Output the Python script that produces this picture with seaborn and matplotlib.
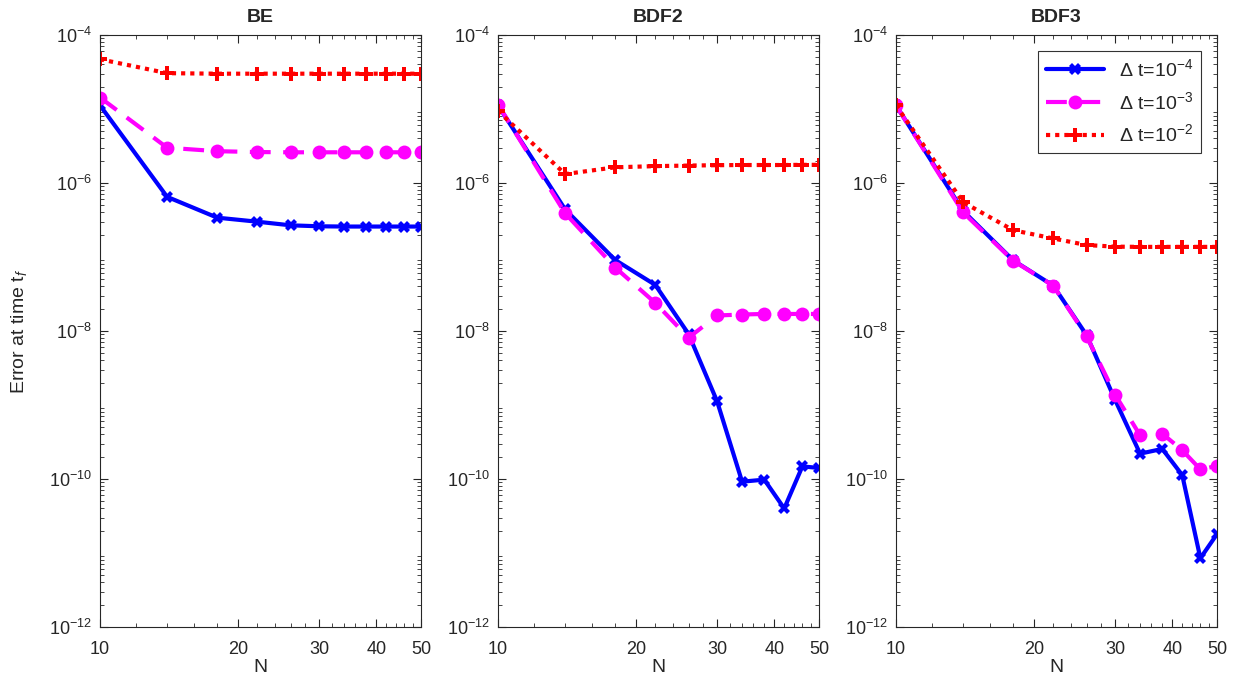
import numpy as np
import pandas as pd
import matplotlib
matplotlib.use("Agg")
import matplotlib.pyplot as plt
import matplotlib.ticker as mticker
import seaborn as sns

# grid sizes
N = [10, 14, 18, 22, 26, 30, 34, 38, 42, 46, 50]

# BE errors
be_dt4 = [1.12e-5, 6.5e-7, 3.4e-7, 3.0e-7, 2.68e-7, 2.6e-7, 2.58e-7, 2.58e-7, 2.58e-7, 2.58e-7, 2.58e-7]
be_dt3 = [1.43e-5, 3.0e-6, 2.69e-6, 2.62e-6, 2.6e-6, 2.6e-6, 2.6e-6, 2.6e-6, 2.6e-6, 2.6e-6, 2.6e-6]
be_dt2 = [4.7e-5, 3.05e-5, 3.0e-5, 3.0e-5, 3.0e-5, 3.0e-5, 3.0e-5, 3.0e-5, 3.0e-5, 3.0e-5, 3.0e-5]

# BDF2 errors
bdf2_dt4 = [1.12e-5, 4.4e-7, 9.1e-8, 4.2e-8, 9.1e-9, 1.12e-9, 9.2e-11, 9.8e-11, 4.0e-11, 1.48e-10, 1.41e-10]
bdf2_dt3 = [1.15e-5, 3.9e-7, 7.2e-8, 2.4e-8, 8.1e-9, 1.62e-8, 1.67e-8, 1.7e-8, 1.7e-8, 1.7e-8, 1.7e-8]
bdf2_dt2 = [9.4e-6, 1.32e-6, 1.63e-6, 1.69e-6, 1.72e-6, 1.74e-6, 1.75e-6, 1.75e-6, 1.75e-6, 1.76e-6, 1.76e-6]

# BDF3 errors
bdf3_dt4 = [1.12e-5, 4.2e-7, 9.0e-8, 4.1e-8, 8.8e-9, 1.17e-9, 2.2e-10, 2.55e-10, 1.13e-10, 8.5e-12, 1.8e-11]
bdf3_dt3 = [1.12e-5, 4.0e-7, 8.9e-8, 4.1e-8, 8.5e-9, 1.38e-9, 3.9e-10, 4.1e-10, 2.45e-10, 1.35e-10, 1.5e-10]
bdf3_dt2 = [1.12e-5, 5.5e-7, 2.3e-7, 1.78e-7, 1.45e-7, 1.38e-7, 1.37e-7, 1.37e-7, 1.37e-7, 1.37e-7, 1.37e-7]

titles = ["BE", "BDF2", "BDF3"]
labels = [r"$\Delta$ t=10$^{-4}$", r"$\Delta$ t=10$^{-3}$", r"$\Delta$ t=10$^{-2}$"]

panels = {
    "BE": [be_dt4, be_dt3, be_dt2],
    "BDF2": [bdf2_dt4, bdf2_dt3, bdf2_dt2],
    "BDF3": [bdf3_dt4, bdf3_dt3, bdf3_dt2],
}

styles = [
    dict(color="#0000ff", linestyle="-", marker="X", markersize=9),
    dict(color="#ff00ff", linestyle=(0, (5, 3)), marker="o", markersize=10),
    dict(color="#ff0000", linestyle=(0, (1, 1.2)), marker="P", markersize=10),
]

sns.set_style("ticks")
plt.rcParams["font.family"] = ["Liberation Sans", "DejaVu Sans"]
plt.rcParams["mathtext.fontset"] = "custom"
plt.rcParams["mathtext.rm"] = "Liberation Sans"
plt.rcParams["mathtext.it"] = "Liberation Sans:italic"

fig = plt.figure(figsize=(12.4, 6.83), dpi=100)
lefts = [100, 498, 896]
bottom = 1 - 627 / 683
height = (627 - 35) / 683
width = 321 / 1240

for k, name in enumerate(titles):
    ax = fig.add_axes([lefts[k] / 1240, bottom, width, height])
    for vals, lab, st in zip(panels[name], labels, styles):
        df = pd.DataFrame({"N": N, "err": vals})
        sns.lineplot(data=df, x="N", y="err", ax=ax, label=lab, linewidth=3,
                     markeredgewidth=0, **st)
    ax.set_xscale("log")
    ax.set_yscale("log")
    ax.set_xlim(10, 50)
    ax.set_ylim(1e-12, 1e-4)
    ax.set_xticks([10, 20, 30, 40, 50])
    ax.xaxis.set_major_formatter(mticker.FixedFormatter(["10", "20", "30", "40", "50"]))
    ax.xaxis.set_minor_locator(mticker.FixedLocator(range(10, 51, 2)))
    ax.xaxis.set_minor_formatter(mticker.NullFormatter())
    ax.set_yticks([1e-12, 1e-10, 1e-8, 1e-6, 1e-4])
    ax.yaxis.set_minor_locator(mticker.LogLocator(base=10, subs=np.arange(2, 10), numticks=20))
    ax.yaxis.set_minor_formatter(mticker.NullFormatter())
    ax.tick_params(which="both", direction="in", top=True, right=True, labelsize=13, color="#262626")
    ax.tick_params(which="major", length=6)
    ax.tick_params(which="minor", length=3)
    ax.tick_params(axis="x", which="major", pad=10)
    ax.tick_params(axis="y", which="major", pad=6)
    for sp in ax.spines.values():
        sp.set_color("#262626")
        sp.set_linewidth(0.8)
    ax.set_title(name, fontsize=14, fontweight="bold", pad=9)
    ax.set_xlabel("N", fontsize=14, labelpad=1)
    if k == 0:
        ax.set_ylabel("Error at time t$_f$", fontsize=14, labelpad=14)
    else:
        ax.set_ylabel("")
    if k == 2:
        leg = ax.legend(loc="upper right", fontsize=14, frameon=True, fancybox=False,
                        edgecolor="black", handlelength=3.0, borderaxespad=0.8,
                        labelspacing=0.55)
        leg.get_frame().set_linewidth(0.8)
    else:
        ax.get_legend().remove()

fig.savefig("out.png", dpi=100)
